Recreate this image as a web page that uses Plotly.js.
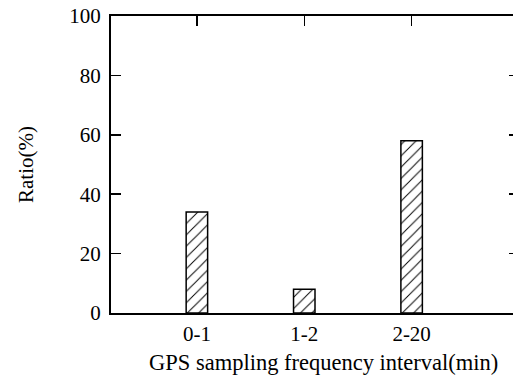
<!DOCTYPE html>
<html>
<head>
<meta charset="utf-8">
<script src="https://cdn.plot.ly/plotly-3.0.1.min.js"></script>
<style>
html, body { margin: 0; padding: 0; overflow: hidden; background: #fff; width: 513px; height: 380px; }
#chart { width: 530px; height: 380px; }
</style>
</head>
<body>
<div id="chart"></div>
<script>
const categories = ['0-1', '1-2', '2-20'];
const ratios = [34, 8, 58];
const yTicks = [0, 20, 40, 60, 80, 100];
const xTitle = 'GPS sampling frequency interval(min)';
const yTitle = 'Ratio(%)';

const FONT = 'Liberation Serif';
const FS = 21;

const trace = {
  type: 'bar',
  x: categories,
  y: ratios,
  width: 0.2,
  marker: {
    color: '#ffffff',
    line: { color: '#000000', width: 1.5 },
    pattern: { shape: '/', fgcolor: '#000000', bgcolor: '#ffffff', size: 8, solidity: 0.12 }
  },
  hoverinfo: 'skip'
};

// The frame's right edge (x = 519) lies just past the 513 px window, as in the reference.
const layout = {
  width: 530,
  height: 380,
  margin: { l: 111, r: 11, t: 16, b: 67, pad: 0 },
  paper_bgcolor: '#ffffff',
  plot_bgcolor: '#ffffff',
  showlegend: false,
  font: { family: FONT, size: FS, color: '#000000' },
  xaxis: {
    type: 'category',
    range: [-0.8, 3.0],
    showline: true, linecolor: '#000000', linewidth: 2,
    mirror: 'ticks',
    ticks: 'inside', ticklen: 10, tickwidth: 1.5, tickcolor: '#000000',
    ticklabelstandoff: 1,
    showgrid: false, zeroline: false,
    tickfont: { family: FONT, size: FS, color: '#000000' },
    layer: 'below traces'
  },
  yaxis: {
    range: [0, 100],
    tickvals: yTicks,
    showline: true, linecolor: '#000000', linewidth: 2,
    mirror: 'ticks',
    ticks: 'inside', ticklen: 10, tickwidth: 1.5, tickcolor: '#000000',
    ticklabelstandoff: 4,
    showgrid: false, zeroline: false,
    tickfont: { family: FONT, size: FS, color: '#000000' },
    title: { text: yTitle, font: { family: FONT, size: FS, color: '#000000' }, standoff: 30 },
    layer: 'below traces'
  },
  annotations: [{
    text: xTitle,
    xref: 'paper', yref: 'paper',
    x: 0.52, y: 0,
    xanchor: 'center', yanchor: 'top',
    yshift: -35,
    showarrow: false,
    font: { family: FONT, size: 22.5, color: '#000000' }
  }]
};

Plotly.newPlot('chart', [trace], layout, { staticPlot: true, displayModeBar: false });
</script>
</body>
</html>
